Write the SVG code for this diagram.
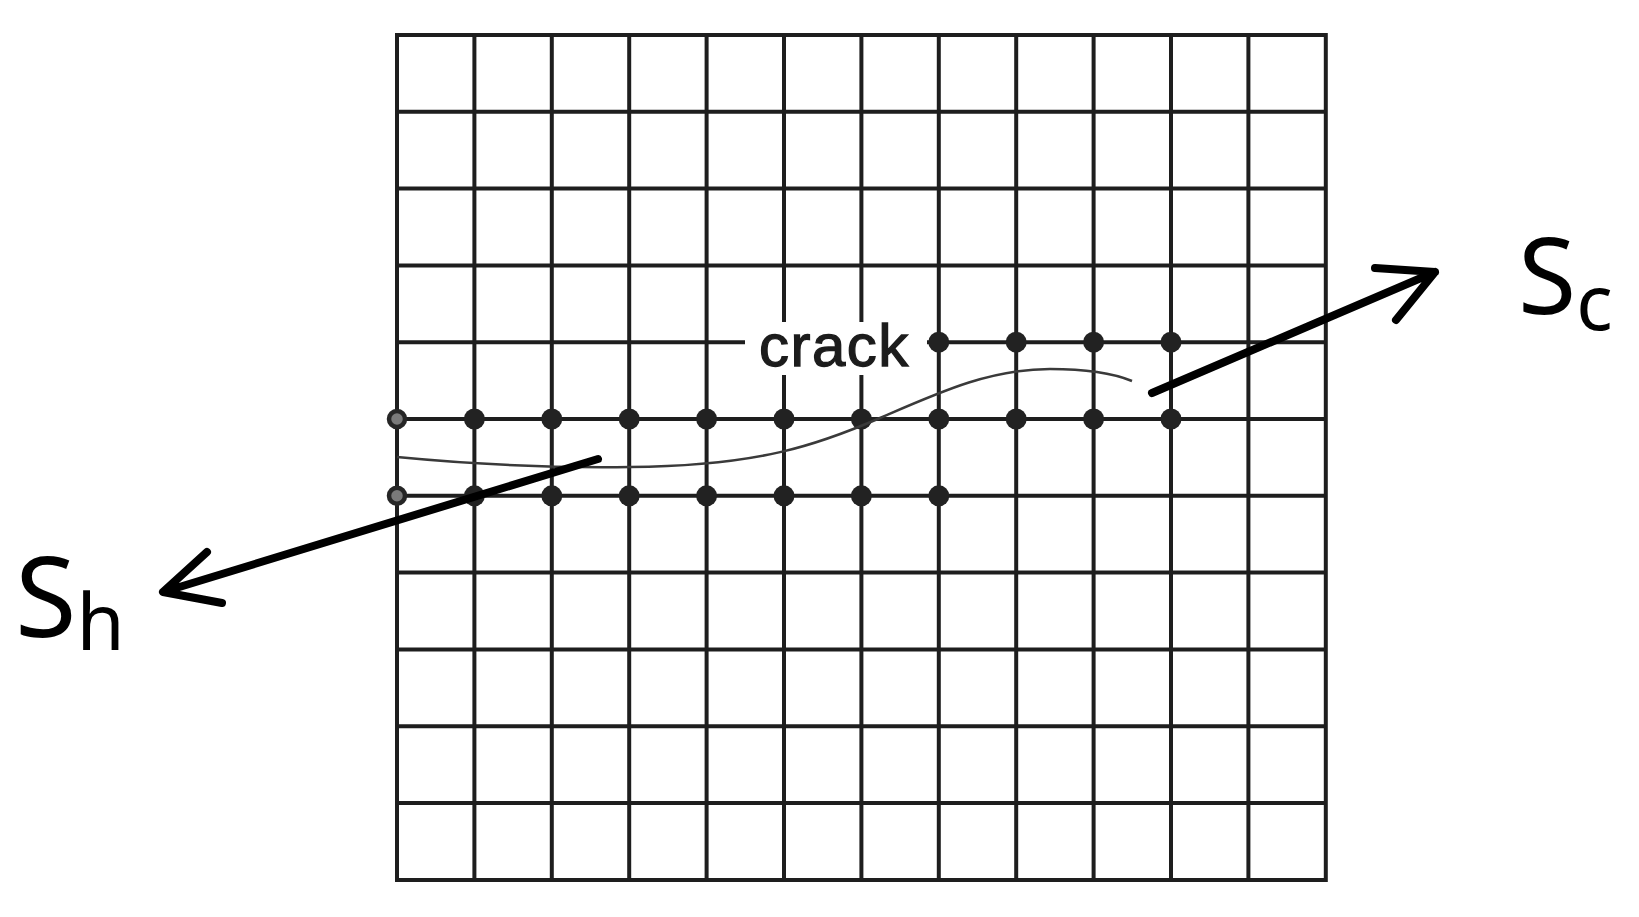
<svg xmlns="http://www.w3.org/2000/svg" width="1639" height="917" viewBox="0 0 1639 917">
<defs>
<style>
.grid{stroke:#1e1e1e;stroke-width:4;fill:none}
.dot{fill:#222}
.dot0{fill:#7a7a7a;stroke:#262626;stroke-width:4.5}
.crack{stroke:#3a3a3a;stroke-width:2.5;fill:none}
.arrow{stroke:#000;stroke-width:8;fill:none;stroke-linecap:round;stroke-linejoin:round}
.lbl{font-family:"Noto Sans","Open Sans",sans-serif;fill:#000}
</style>
</defs>
<rect width="1639" height="917" fill="#fff"/>
<g id="grid" class="grid">
<rect x="397" y="35" width="928.8" height="845"/>
<path d="M474.4,35V880M551.8,35V880M629.2,35V880M706.6,35V880M784,35V880M861.4,35V880M938.8,35V880M1016.2,35V880M1093.6,35V880M1171,35V880M1248.4,35V880"/>
<path d="M397,111.8H1325.8M397,188.6H1325.8M397,265.4H1325.8M397,342.2H1325.8M397,419H1325.8M397,495.8H1325.8M397,572.6H1325.8M397,649.4H1325.8M397,726.2H1325.8M397,803H1325.8"/>
</g>
<g id="crack-label">
<rect x="745" y="322" width="182" height="53" fill="#fff"/>
<text x="759" y="366" font-family="Liberation Sans, Arial, sans-serif" font-size="60" letter-spacing="1.5" fill="#1c1c1c" stroke="#1c1c1c" stroke-width="1.3">crack</text>
</g>
<g id="dots">
<circle class="dot" cx="938.8" cy="342.2" r="10.5"/><circle class="dot" cx="1016.2" cy="342.2" r="10.5"/><circle class="dot" cx="1093.6" cy="342.2" r="10.5"/><circle class="dot" cx="1171" cy="342.2" r="10.5"/>
<circle class="dot0" cx="397" cy="419" r="8"/><circle class="dot" cx="474.4" cy="419" r="10.5"/><circle class="dot" cx="551.8" cy="419" r="10.5"/><circle class="dot" cx="629.2" cy="419" r="10.5"/><circle class="dot" cx="706.6" cy="419" r="10.5"/><circle class="dot" cx="784" cy="419" r="10.5"/><circle class="dot" cx="861.4" cy="419" r="10.5"/><circle class="dot" cx="938.8" cy="419" r="10.5"/><circle class="dot" cx="1016.2" cy="419" r="10.5"/><circle class="dot" cx="1093.6" cy="419" r="10.5"/><circle class="dot" cx="1171" cy="419" r="10.5"/>
<circle class="dot0" cx="397" cy="495.8" r="8"/><circle class="dot" cx="474.4" cy="495.8" r="10.5"/><circle class="dot" cx="551.8" cy="495.8" r="10.5"/><circle class="dot" cx="629.2" cy="495.8" r="10.5"/><circle class="dot" cx="706.6" cy="495.8" r="10.5"/><circle class="dot" cx="784" cy="495.8" r="10.5"/><circle class="dot" cx="861.4" cy="495.8" r="10.5"/><circle class="dot" cx="938.8" cy="495.8" r="10.5"/>
</g>
<g id="crack">
<path class="crack" d="M397,457 C480,465 560,468 630,467 C760,466 820,444 880,418 C940,392 990,369 1050,369 C1090,369 1115,374 1132,381"/>
</g>
<g id="connectors">
<path class="arrow" d="M598,459 L163,592 M207,552 L163,592 L222,603"/>
<path class="arrow" d="M1152,393 L1435,272 M1375,268 L1435,272 L1396,320"/>
</g>
<g id="label-sh">
<text class="lbl" x="15" y="637" font-size="112">S<tspan font-size="78" dy="13">h</tspan></text>
</g>
<g id="label-sc">
<text class="lbl" x="1518" y="314" font-size="106">S<tspan font-size="76" dy="16">c</tspan></text>
</g>
</svg>
